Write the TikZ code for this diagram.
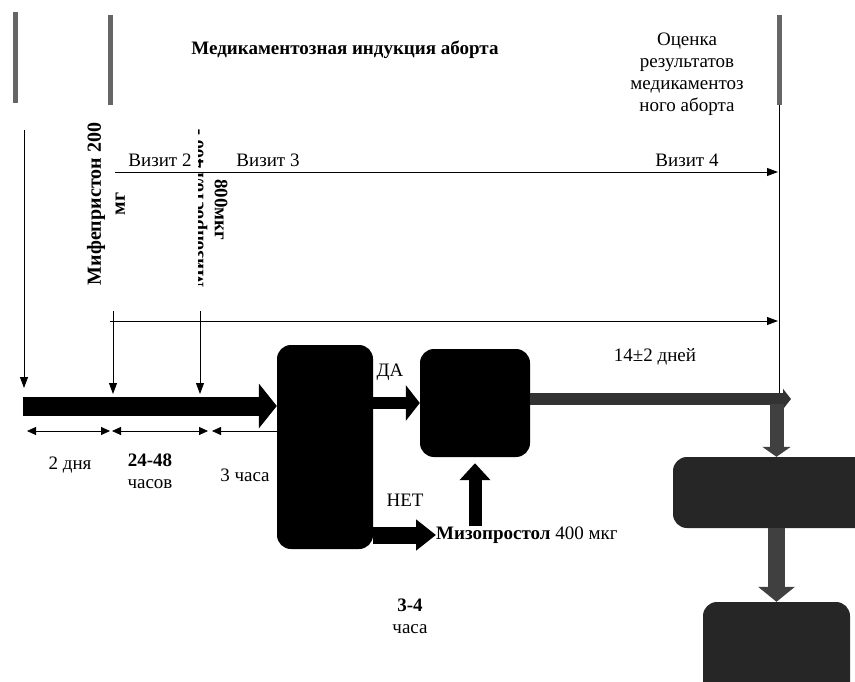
\documentclass[tikz,border=0pt]{standalone}
\usepackage{fontspec}
\setmainfont{Liberation Serif}
\usetikzlibrary{arrows.meta}

\begin{document}
\begin{tikzpicture}[x=1pt,y=-1pt]
  \tikzstyle{block}=[rounded corners=14pt,fill=black,draw=none,inner sep=0pt]
  \tikzstyle{txt}=[font=\fontsize{19}{22}\selectfont,align=center,inner sep=0pt]
  \tikzstyle{thin}=[draw,thick,-{Triangle[length=11pt,width=8pt]}]
  \tikzstyle{dim}=[draw,thick,{Triangle[length=9pt,width=8pt]}-{Triangle[length=9pt,width=8pt]}]
  \tikzstyle{greybar}=[draw=black!60,line width=5pt]
  \clip (0,0) rectangle (855,682);

  % blocks
  \node [block, minimum width=96pt, minimum height=204pt] (chk) at (325,447) {};
  \node [block, minimum width=110pt, minimum height=108pt] (ok) at (475,403) {};
  \node [block, fill=black!85, minimum width=197pt, minimum height=71pt] (res) at (771.5,492.5) {};
  \node [block, fill=black!85, minimum width=147pt, minimum height=98pt] (out) at (776.5,651) {};

  % texts
  \node [txt] (title) at (345,50) {\bfseries Медикаментозная индукция аборта};
  \node [txt] (eval) at (687,74) {Оценка\\результатов\\медикаментоз\\ного аборта};
  \node [txt] (vis2) at (160,160) {Визит 2};
  \node [txt] (vis3) at (268,160) {Визит 3};
  \node [txt] (vis4) at (687,160) {Визит 4};
  \node [txt, rotate=90, font=\fontsize{20}{24}\selectfont] (mife) at (106,204) {\bfseries Мифепристон 200\\\bfseries мг};
  \begin{scope}
    \clip (198.5,100) rectangle (208,310);
    \node [txt, rotate=90] (miso1) at (199,208) {\bfseries Мизопростол 400 -};
  \end{scope}
  \node [txt, rotate=-90] (miso2) at (221,210) {\bfseries 800мкг};
  \node [txt] (days) at (655,357) {14±2 дней};
  \node [txt] (yes) at (390,372) {ДА};
  \node [txt] (no) at (405,500) {НЕТ};
  \node [txt, anchor=west] (miso) at (436,535) {\bfseries Мизопростол\mdseries{} 400 мкг};
  \node [txt] (d2) at (70,465) {2 дня};
  \node [txt] (d24) at (150,471) {\bfseries 24-48\\часов};
  \node [txt] (h3) at (245,475) {3 часа};
  \node [txt] (h34) at (410,616) {\bfseries 3-4\\\mdseries часа};

  % grey markers on top
  \draw [greybar] (15,12) -- (15,103);
  \draw [greybar] (110,15) -- (110,105);
  \draw [greybar] (779,15) -- (779,105);

  % thin lines
  \coordinate (top) at (779,105);
  \coordinate (bot) at (779,400);
  \draw [thick] (top) -- (bot);
  \coordinate (a0) at (24,130);
  \coordinate (a1) at (24,388);
  \path [thin] (a0) -- (a1);
  \coordinate (v0) at (115,172);
  \coordinate (v1) at (778,172);
  \path [thin] (v0) -- (v1);
  \coordinate (k0) at (110,321);
  \coordinate (k1) at (778,321);
  \path [thin] (k0) -- (k1);
  \coordinate (m0) at (113,311);
  \coordinate (m1) at (113,394);
  \path [thin] (m0) -- (m1);
  \coordinate (p0) at (200,311);
  \coordinate (p1) at (200,394);
  \path [thin] (p0) -- (p1);

  % durations
  \coordinate (d0) at (27,431);
  \coordinate (d1) at (110,431);
  \coordinate (e0) at (112,431);
  \coordinate (e1) at (208,431);
  \coordinate (f0) at (212,431);
  \path [dim] (d0) -- (d1);
  \path [dim] (e0) -- (e1);
  \draw [thick, {Triangle[length=9pt,width=8pt]}-] (f0) -- (f0 -| chk.west);

  % fat arrows
  \coordinate (start) at (23,406);
  \draw [line width=19pt, -{Triangle[length=18pt,width=44pt]}] (start) -- (start -| chk.west);
  \draw [line width=12pt, -{Triangle[length=14pt,width=35pt]}] (chk.east |- ok.west) -- (ok.west);
  \draw [line width=17pt, -{Triangle[length=20pt,width=30pt]}] (chk.east |- miso.west) -- (miso.west);
  \draw [line width=13pt, -{Triangle[length=17pt,width=30pt]}] (ok.south |- miso.north) -- ([yshift=-6pt]ok.south);
  \coordinate (fin) at (791,399);
  \draw [line width=12pt, black!80, -{Triangle[length=8pt,width=20pt]}] (ok.east |- fin) -- (fin);
  \draw [line width=14pt, black!75, -{Triangle[length=10pt,width=28pt]}] ([yshift=-5pt]fin -| out.north) -- (out.north |- res.north);
  \draw [line width=17pt, black!75, -{Triangle[length=15pt,width=36pt]}] (out.north |- res.south) -- (out.north);
\end{tikzpicture}
\end{document}
